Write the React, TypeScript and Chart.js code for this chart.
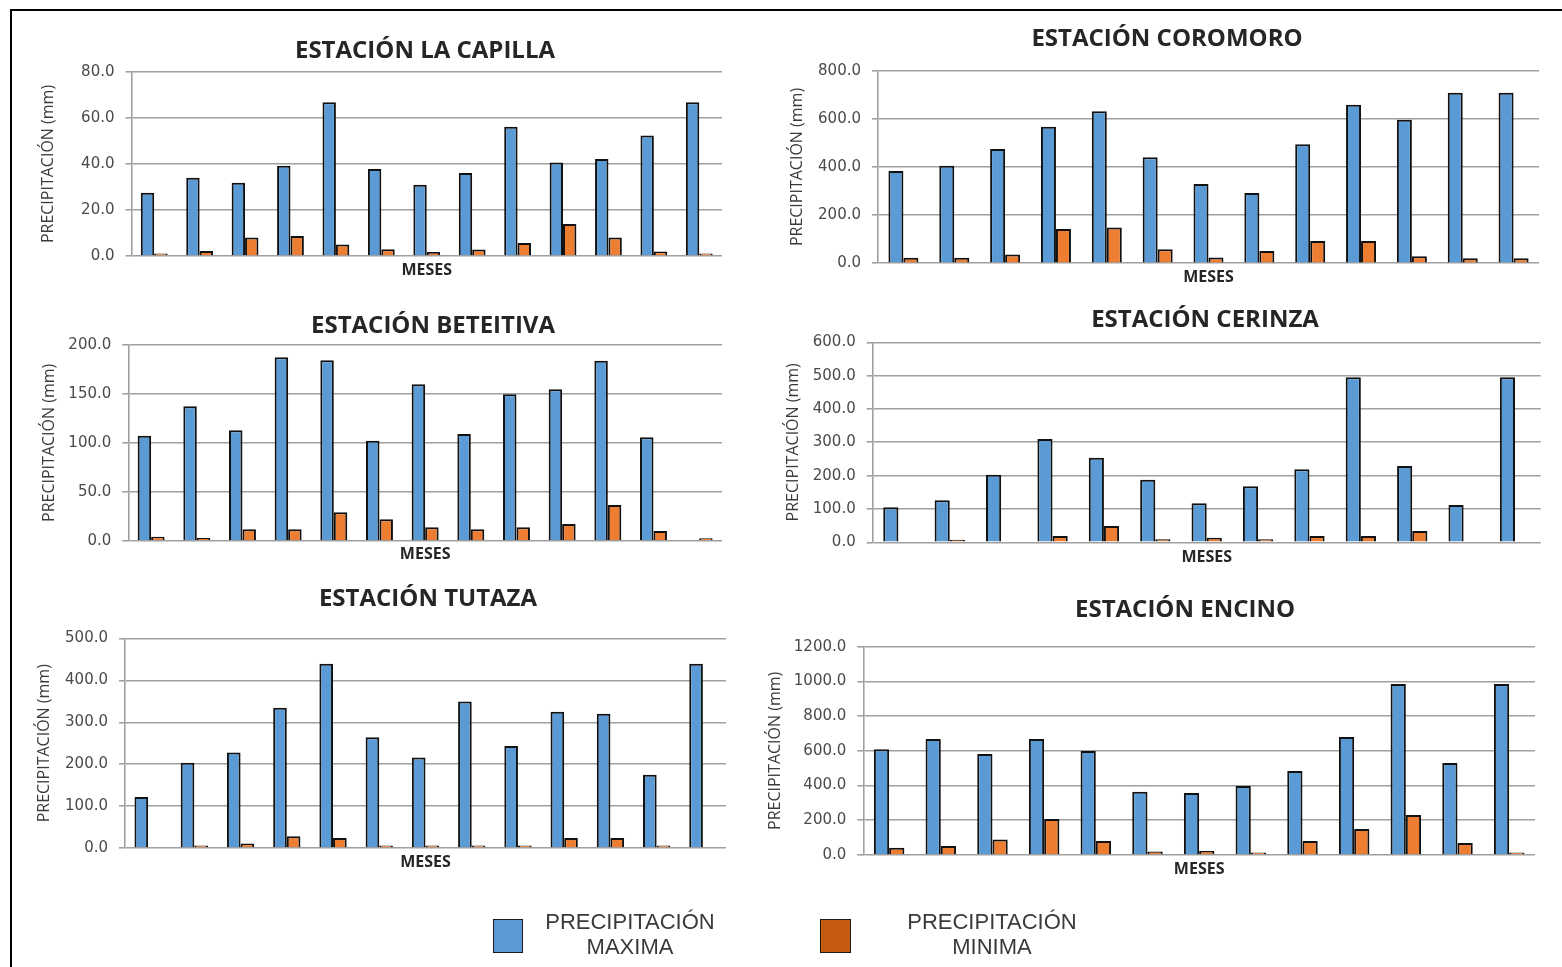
import React, { useEffect, useRef } from 'react';
import { Chart, registerables } from 'chart.js';

Chart.register(...registerables);

// Thirteen categories: the twelve months plus the yearly extreme.
const MESES = ['Ene', 'Feb', 'Mar', 'Abr', 'May', 'Jun', 'Jul', 'Ago', 'Sep', 'Oct', 'Nov', 'Dic', 'Año'];

const capillaMax = [27.5, 34.0, 31.8, 39.2, 66.8, 37.8, 31.0, 36.1, 56.2, 40.6, 42.2, 52.4, 66.8];
const capillaMin = [0.5, 2.2, 8.0, 8.7, 5.0, 2.9, 1.7, 2.8, 5.7, 13.9, 8.0, 2.0, 0.5];

const coromoroMax = [383, 405, 475, 567, 632, 440, 329, 292, 495, 659, 596, 708, 708];
const coromoroMin = [23, 23, 37, 142, 149, 58, 24, 51, 93, 93, 29, 21, 21];

const beteitivaMax = [107.3, 137.4, 112.8, 187.5, 184.4, 102.2, 160.0, 109.0, 149.6, 154.7, 184.0, 105.7, null];
const beteitivaMin = [4.1, 2.8, 11.6, 11.6, 29.0, 21.9, 13.7, 11.6, 13.7, 17.1, 36.5, 9.9, 2.5];

const cerinzaMax = [105, 126, 203, 310, 254, 188, 117, 168, 219, 495, 229, 112, 495];
const cerinzaMin = [null, 2, null, 19, 49, 9, 14, 9, 19, 19, 34, null, null];

const tutazaMax = [121.5, 203.7, 227.7, 334.8, 439.5, 264.6, 215.9, 349.6, 243.6, 325.3, 320.6, 174.6, 439.5];
const tutazaMin = [null, 2, 11, 28, 24, 2, 2, 2, 2, 24, 24, 2, null];

const encinoMax = [609, 668, 582, 668, 599, 365, 357, 397, 484, 680, 985, 530, 985];
const encinoMin = [42, 52, 90, 207, 81, 20, 23, 10, 81, 150, 230, 69, 10];

// Y axis ranges: [max, step]
const capillaAxis = [80, 20];
const coromoroAxis = [800, 200];
const beteitivaAxis = [200, 50];
const cerinzaAxis = [600, 100];
const tutazaAxis = [500, 100];
const encinoAxis = [1200, 200];

const LABEL_MAX = 'PRECIPITACIÓN MAXIMA';
const LABEL_MIN = 'PRECIPITACIÓN MINIMA';
const Y_TITLE = 'PRECIPITACIÓN (mm)';
const X_TITLE = 'MESES';

const BLUE = '#5B9BD5';
const ORANGE = '#ED7D31';
const ORANGE_KEY = '#C55A11';
const OUTLINE = '#111111';

const PAGE_W = 1562;
const PAGE_H = 967;

// Page layout of each panel: plot rectangle [left, top, right, bottom],
// title centre, y-axis title centre x, x-axis title centre y.
const stations = [
  { title: 'ESTACIÓN LA CAPILLA', max: capillaMax, min: capillaMin, axis: capillaAxis,
    plot: [131.5, 72, 722, 256], titleAt: [425, 51], yTitleX: 48, xTitleY: 270 },
  { title: 'ESTACIÓN COROMORO', max: coromoroMax, min: coromoroMin, axis: coromoroAxis,
    plot: [878, 70.7, 1539, 263.3], titleAt: [1167, 39], yTitleX: 797, xTitleY: 277 },
  { title: 'ESTACIÓN BETEITIVA', max: beteitivaMax, min: beteitivaMin, axis: beteitivaAxis,
    plot: [128.3, 345, 722, 540.7], titleAt: [433, 326], yTitleX: 49.5, xTitleY: 554 },
  { title: 'ESTACIÓN CERINZA', max: cerinzaMax, min: cerinzaMin, axis: cerinzaAxis,
    plot: [872.7, 342.3, 1540.7, 542.3], titleAt: [1205, 320], yTitleX: 793, xTitleY: 557 },
  { title: 'ESTACIÓN TUTAZA', max: tutazaMax, min: tutazaMin, axis: tutazaAxis,
    plot: [125, 638.5, 726, 848], titleAt: [428, 599], yTitleX: 44, xTitleY: 862 },
  { title: 'ESTACIÓN ENCINO', max: encinoMax, min: encinoMin, axis: encinoAxis,
    plot: [863.3, 646.7, 1535, 855], titleAt: [1185, 610], yTitleX: 775, xTitleY: 869 },
];

const Y_TITLE_SIZE = 16;
const X_TITLE_SIZE = 16;

// Draws each panel's heading centred at a fixed point.
const stationTitle = {
  id: 'stationTitle',
  afterDraw(chart: any, _args: any, opts: any) {
    const { ctx } = chart;
    ctx.save();
    ctx.font = 'bold 24px "Open Sans"';
    ctx.fillStyle = '#262626';
    ctx.textAlign = 'center';
    ctx.textBaseline = 'middle';
    ctx.fillText(opts.text, opts.x, opts.y);
    ctx.restore();
  },
};

function StationChart({ st }: { st: any }) {
  const ref = useRef<HTMLCanvasElement>(null);

  useEffect(() => {
    const [pl, pt, pr, pb] = st.plot;
    const yLine = Y_TITLE_SIZE * 1.2;
    const xLine = X_TITLE_SIZE * 1.2;
    const padLeft = st.yTitleX - yLine / 2;
    const yWidth = pl - padLeft;
    const xHeight = st.xTitleY - pb + xLine / 2;
    const padBottom = PAGE_H - pb - xHeight;

    const chart = new Chart(ref.current as HTMLCanvasElement, {
      type: 'bar',
      data: {
        labels: MESES,
        datasets: [
          { label: LABEL_MAX, data: st.max, backgroundColor: BLUE, borderColor: OUTLINE, borderWidth: 2 },
          { label: LABEL_MIN, data: st.min, backgroundColor: ORANGE, borderColor: OUTLINE, borderWidth: 2, minBarLength: 2.5 },
        ],
      },
      options: {
        responsive: false,
        animation: false,
        events: [],
        devicePixelRatio: 1,
        layout: { padding: { left: padLeft, top: pt, right: PAGE_W - pr, bottom: padBottom } },
        datasets: { bar: { categoryPercentage: 0.59, barPercentage: 1.0 } },
        plugins: {
          legend: { display: false },
          tooltip: { enabled: false },
          title: { display: false },
          stationTitle: { text: st.title, x: st.titleAt[0], y: st.titleAt[1] },
        } as any,
        scales: {
          x: {
            grid: { display: false },
            border: { display: false },
            ticks: { display: false },
            title: {
              display: true,
              text: X_TITLE,
              color: '#262626',
              font: { family: 'Open Sans', size: X_TITLE_SIZE, weight: 'bold' },
              padding: 0,
            },
            afterFit: (scale: any) => { scale.height = xHeight; },
          },
          y: {
            min: 0,
            max: st.axis[0],
            ticks: {
              stepSize: st.axis[1],
              color: '#4a4a4a',
              padding: 11,
              font: { family: 'DejaVu Sans', size: 15 },
              callback: (v: any) => Number(v).toFixed(1),
            },
            grid: { color: '#a0a0a0', lineWidth: 1.6, drawTicks: true, tickLength: 6 },
            border: { display: true, color: '#a0a0a0', width: 1.6 },
            title: {
              display: true,
              text: Y_TITLE,
              color: '#3a3a3a',
              font: { family: 'Open Sans', size: Y_TITLE_SIZE },
              padding: 0,
            },
            afterFit: (scale: any) => { scale.width = yWidth; },
          },
        },
      },
      plugins: [stationTitle],
    });
    return () => chart.destroy();
  }, [st]);

  return (
    <canvas
      ref={ref}
      width={PAGE_W}
      height={PAGE_H}
      style={{ position: 'absolute', left: 0, top: 0, width: PAGE_W, height: PAGE_H }}
    />
  );
}

const keyText: React.CSSProperties = {
  position: 'absolute',
  width: 260,
  textAlign: 'center',
  fontFamily: '"Liberation Sans", Arial, sans-serif',
  fontSize: 22,
  lineHeight: '25px',
  color: '#3a3a3a',
};

export default function App() {
  return (
    <div style={{ position: 'fixed', left: 0, top: 0, width: PAGE_W, height: PAGE_H, overflow: 'hidden', background: '#fff' }}>
      <div style={{ position: 'absolute', left: 10, top: 9, width: PAGE_W + 100, height: PAGE_H + 100, borderTop: '2px solid #000', borderLeft: '2px solid #000' }} />
      {stations.map((st) => <StationChart key={st.title} st={st} />)}
      <div style={{ position: 'absolute', left: 493, top: 919, width: 28, height: 32, background: BLUE, border: '1.5px solid #1c1c1c' }} />
      <div style={{ ...keyText, left: 630 - 130, top: 909 }}>PRECIPITACIÓN<br />MAXIMA</div>
      <div style={{ position: 'absolute', left: 820, top: 919, width: 29, height: 32, background: ORANGE_KEY, border: '1.5px solid #1c1c1c' }} />
      <div style={{ ...keyText, left: 992 - 130, top: 909 }}>PRECIPITACIÓN<br />MINIMA</div>
    </div>
  );
}
